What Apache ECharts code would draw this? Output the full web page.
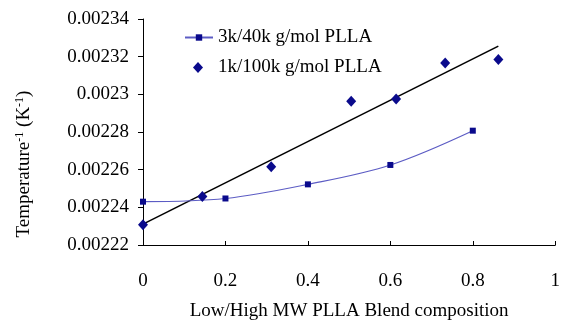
<!DOCTYPE html>
<html>
<head>
<meta charset="utf-8">
<script src="https://cdn.jsdelivr.net/npm/echarts@6/dist/echarts.min.js"></script>
<style>
  html, body { margin: 0; padding: 0; background: #fff; }
  #chart { width: 563px; height: 326px; }
</style>
</head>
<body>
<div id="chart"></div>
<script>
// 3k/40k g/mol PLLA blend (smoothed line)
const blendA_x = [0, 0.2, 0.4, 0.6, 0.8];
const blendA_y = [0.002243, 0.0022447, 0.0022522, 0.0022625, 0.0022807];

// 1k/100k g/mol PLLA blend (points only)
const blendB_x = [0, 0.144, 0.311, 0.505, 0.614, 0.733, 0.862];
const blendB_y = [0.0022307, 0.0022457, 0.0022616, 0.0022963, 0.0022975, 0.0023167, 0.0023185];

// linear trend through blend B (end points)
const trend_x = [0, 0.862];
const trend_y = [0.0022311, 0.0023256];

const yTicks = { min: 0.00222, max: 0.00234, step: 0.00002 };
const xTicks = { min: 0, max: 1, step: 0.2 };

const zip = (xs, ys) => xs.map((x, i) => [x, ys[i]]);
const FONT = '"Liberation Serif", "Times New Roman", serif';
const FS = 19;
const NAVY = '#0a0a8c';
const legendText = { fontFamily: FONT, fontSize: FS, color: '#000' };

const chart = echarts.init(document.getElementById('chart'), null, { renderer: 'canvas' });

const option = {
  animation: false,
  backgroundColor: '#fff',
  grid: { left: 143, right: 5, top: 19, bottom: 78 },
  legend: [
    {
      left: 184,
      top: 28,
      padding: 0,
      itemWidth: 28,
      itemHeight: 8,
      data: ['3k/40k g/mol PLLA'],
      textStyle: legendText
    },
    {
      left: 193,
      top: 58,
      padding: 0,
      itemWidth: 10,
      itemHeight: 11,
      data: [{ name: '1k/100k g/mol PLLA', icon: 'diamond' }],
      textStyle: Object.assign({ padding: [0, 0, 0, 10] }, legendText)
    }
  ],
  xAxis: {
    type: 'value',
    min: xTicks.min,
    max: xTicks.max,
    interval: xTicks.step,
    name: 'Low/High MW PLLA Blend composition',
    nameLocation: 'middle',
    nameGap: 57,
    nameTextStyle: { fontFamily: FONT, fontSize: FS, color: '#000' },
    axisLine: { onZero: false, lineStyle: { color: '#000', width: 1 } },
    axisTick: { inside: true, length: 4, lineStyle: { color: '#000' } },
    axisLabel: { margin: 27, fontFamily: FONT, fontSize: FS, color: '#000' },
    splitLine: { show: false }
  },
  yAxis: {
    type: 'value',
    min: yTicks.min,
    max: yTicks.max,
    interval: yTicks.step,
    axisLine: { show: true, lineStyle: { color: '#000', width: 1 } },
    axisTick: { show: true, length: 5, lineStyle: { color: '#000' } },
    axisLabel: {
      margin: 14,
      fontFamily: FONT,
      fontSize: FS,
      color: '#000',
      formatter: v => String(+v.toFixed(5))
    },
    splitLine: { show: false }
  },
  graphic: [{
    type: 'text',
    x: 24,
    y: 164,
    rotation: Math.PI / 2,
    style: {
      text: 'Temperature{sup|-1} (K{sup|-1})',
      font: FS + 'px ' + FONT,
      fill: '#000',
      align: 'center',
      verticalAlign: 'middle',
      rich: {
        sup: { fontSize: 12, fontFamily: FONT, verticalAlign: 'top', padding: [0, 0, 9, 0] }
      }
    }
  }],
  series: [
    {
      name: '3k/40k g/mol PLLA',
      type: 'line',
      smooth: 0.35,
      data: zip(blendA_x, blendA_y),
      symbol: 'rect',
      symbolSize: 6,
      lineStyle: { color: '#5c5cc4', width: 1.2 },
      itemStyle: { color: NAVY },
      z: 3
    },
    {
      name: '1k/100k g/mol PLLA',
      type: 'scatter',
      data: zip(blendB_x, blendB_y),
      symbol: 'diamond',
      symbolSize: [10, 11],
      itemStyle: { color: NAVY, opacity: 1 },
      z: 4
    },
    {
      name: 'trend',
      type: 'line',
      data: zip(trend_x, trend_y),
      showSymbol: false,
      symbol: 'none',
      lineStyle: { color: '#000', width: 1.6 },
      z: 2
    }
  ]
};

chart.setOption(option);
</script>
</body>
</html>
